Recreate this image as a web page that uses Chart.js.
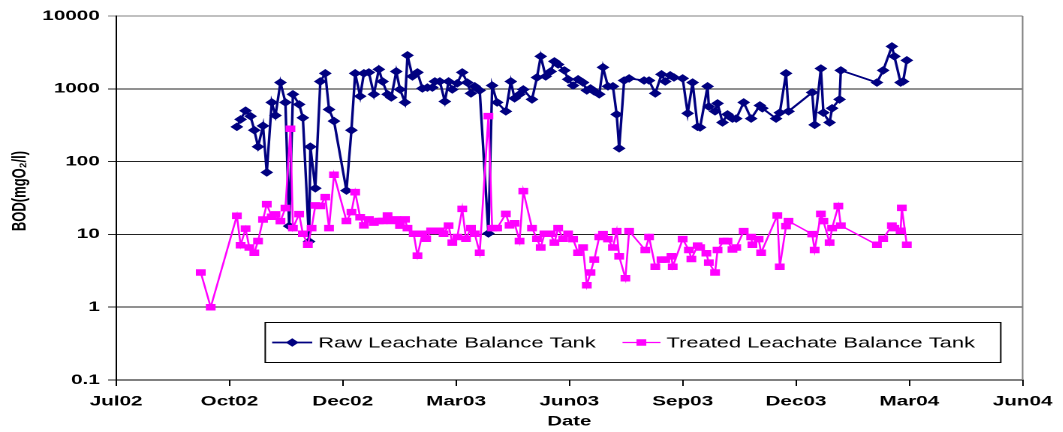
<!DOCTYPE html>
<html>
<head>
<meta charset="utf-8">
<script src="https://cdn.jsdelivr.net/npm/chart.js@4/dist/chart.umd.min.js"></script>
<style>
  html, body { margin: 0; padding: 0; background: #fff; overflow: hidden; }
  /* the chart is laid out narrow and stretched sideways, giving the wide lettering */
  #frame { position: absolute; left: 0; top: 0; width: 708.667px; height: 432px;
           transform: scaleX(1.5); transform-origin: 0 0; }
</style>
</head>
<body>
<div id="frame"><canvas id="bod"></canvas></div>
<script>
// Sampling day (days from 1 Jul 2002) and BOD in mgO2/l
const rawDay = [97,100,104,108,111,114,118,121,125,128,132,136,139,142,147,150,155,156,160,164,
  168,171,175,185,189,192,196,199,203,207,211,214,218,221,225,228,232,234,238,242,
  246,250,254,256,260,264,267,270,274,278,282,285,288,292,299,302,306,313,317,320,
  324,327,334,338,341,345,349,352,355,360,363,367,371,375,378,381,384,388,391,395,
  399,402,404,408,412,424,428,433,438,441,445,448,455,459,463,467,469,475,476,481,
  483,487,491,495,498,504,510,517,519,530,533,538,540,559,561,566,568,573,575,581,
  582,611,616,623,625,630,632,635];
const rawBOD = [300,380,500,420,270,160,310,71,650,430,1220,650,13,840,610,400,8,160,43,1260,
  1630,520,360,40,270,1630,790,1630,1680,840,1850,1260,840,760,1730,980,650,2880,1480,1680,
  1010,1040,1040,1260,1260,670,1260,980,1190,1680,1220,865,1080,950,10.3,1110,650,490,1260,740,
  840,980,715,1430,2790,1480,1730,2380,2160,1790,1350,1110,1350,1220,950,1010,920,840,1970,1080,
  1080,445,152,1300,1390,1300,1300,865,1580,1260,1530,1430,1390,460,1220,300,295,1080,570,490,
  630,345,445,390,390,650,390,590,540,390,470,1630,490,890,320,1900,470,345,540,715,
  1790,1220,1790,3820,2790,1220,1260,2460];

const treatedDay = [68,76,97,100,104,107,111,114,118,121,125,128,132,136,140,142,147,150,154,157,
  160,164,168,171,175,185,189,192,196,199,203,207,211,214,218,221,225,228,232,234,
  239,242,246,249,253,256,260,263,267,270,274,278,281,285,288,292,299,302,306,313,
  316,320,324,327,334,338,341,344,349,352,355,359,363,367,371,375,378,381,384,388,
  391,395,399,402,404,409,412,425,428,433,438,441,446,447,455,460,462,467,469,474,
  476,481,483,488,491,495,498,504,510,511,516,518,531,533,538,540,559,561,566,568,
  573,575,580,582,611,616,623,625,630,631,635];
const treatedBOD = [3,1,18,7.1,12,6.6,5.6,8.1,16,26,17.5,18.8,15.2,23,283,12.2,19,10.2,7.2,12.2,
  25,24.6,32.5,12.2,66,15.3,20.2,38,17.2,13.3,16.1,14.5,15.3,15.3,18.2,15.3,16.1,13.2,16.1,12.2,
  10.2,5.1,10.2,8.7,11.2,11.2,11.2,10.2,13.2,7.7,9.2,22.4,8.7,12.2,10.2,5.6,422,12.2,12.2,19.1,
  13.3,14.2,8.1,39.3,12.2,8.7,6.6,10.2,10.2,7.7,12.2,8.7,10.2,8.6,5.6,6.6,2.0,3.0,4.5,9.2,
  10.1,8.6,6.6,11.1,5.0,2.5,11.1,6.1,9.2,3.6,4.5,4.5,5.0,3.6,8.6,6.1,4.6,7.0,6.6,5.5,
  4.1,3.0,6.1,8.1,8.1,6.2,6.6,11.1,9.2,7.2,8.6,5.6,18.2,3.6,13,15.2,10.1,6.1,19.1,15.2,
  7.7,12.2,24.5,13.2,7.2,8.7,13.2,12.2,11.2,23.1,7.2];

// Axis ticks and titles
const xTickLabels = ['Jul02','Oct02','Dec02','Mar03','Jun03','Sep03','Dec03','Mar04','Jun04'];
const xTickStep = 91;
const yTickValues = [0.1, 1, 10, 100, 1000, 10000];
const yTitle = 'BOD(mgO\u2082/l)';
const xTitle = 'Date';

const seriesNames = ['Raw Leachate Balance Tank', 'Treated Leachate Balance Tank'];
const NAVY = '#000080';
const MAGENTA = '#FF00FF';
const FONT = "'Liberation Sans', Arial, sans-serif";

const toPoints = (xs, ys) => xs.map((x, i) => ({ x: x, y: ys[i] }));

// Boxed legend inside the plot, the grey right-hand frame edge and the y title
const legendBox = {
  id: 'legendBox',
  afterDraw(chart) {
    const ctx = chart.ctx;
    const a = chart.chartArea;
    ctx.save();
    ctx.strokeStyle = '#808080';
    ctx.lineWidth = 1;
    ctx.beginPath();
    ctx.moveTo(a.right, a.top);
    ctx.lineTo(a.right, a.bottom);
    ctx.stroke();

    // vertical axis title
    ctx.save();
    ctx.translate(13.6, 191);
    ctx.rotate(-Math.PI / 2);
    ctx.fillStyle = '#000';
    ctx.font = 'bold 13px ' + FONT;
    ctx.textAlign = 'center';
    ctx.textBaseline = 'middle';
    ctx.fillText(yTitle, 0, 0);
    ctx.restore();

    const bx = 176.7, by = 322.5, bw = 490, bh = 40;
    ctx.fillStyle = '#fff';
    ctx.fillRect(bx, by, bw, bh);
    ctx.strokeStyle = '#000';
    ctx.strokeRect(bx, by, bw, bh);

    const cy = by + bh / 2;
    const entries = [
      { x0: 181.3, x1: 208, mx: 194.7, tx: 212, color: NAVY, style: 'rectRot', r: 3.6, lw: 1.7, label: seriesNames[0] },
      { x0: 414.7, x1: 440, mx: 427.3, tx: 444, color: MAGENTA, style: 'rect', r: 3.9, lw: 1.3, label: seriesNames[1] }
    ];
    entries.forEach(e => {
      ctx.strokeStyle = e.color;
      ctx.lineWidth = e.lw;
      ctx.beginPath();
      ctx.moveTo(e.x0, cy);
      ctx.lineTo(e.x1, cy);
      ctx.stroke();
      ctx.fillStyle = e.color;
      ctx.lineWidth = 1;
      Chart.helpers.drawPoint(ctx, { pointStyle: e.style, radius: e.r, rotation: 0, borderWidth: 1 }, e.mx, cy);
      ctx.fillStyle = '#000';
      ctx.font = '14.6px ' + FONT;
      ctx.textBaseline = 'middle';
      ctx.textAlign = 'left';
      ctx.fillText(e.label, e.tx, cy + 1);
    });
    ctx.restore();
  }
};

new Chart(document.getElementById('bod'), {
  type: 'line',
  data: {
    datasets: [
      {
        label: seriesNames[0],
        data: toPoints(rawDay, rawBOD),
        borderColor: NAVY,
        backgroundColor: NAVY,
        borderWidth: 1.7,
        pointStyle: 'rectRot',
        pointRadius: 3.6,
        pointBorderWidth: 1,
        pointBackgroundColor: NAVY,
        pointBorderColor: NAVY,
        tension: 0,
        order: 1
      },
      {
        label: seriesNames[1],
        data: toPoints(treatedDay, treatedBOD),
        borderColor: MAGENTA,
        backgroundColor: MAGENTA,
        borderWidth: 1.3,
        pointStyle: 'rect',
        pointRadius: 3.9,
        pointBorderWidth: 1,
        pointBackgroundColor: MAGENTA,
        pointBorderColor: MAGENTA,
        tension: 0,
        order: 0
      }
    ]
  },
  options: {
    responsive: true,
    maintainAspectRatio: false,
    devicePixelRatio: 2,
    animation: false,
    events: [],
    layout: { padding: { left: 0, right: 22.67, top: 16, bottom: 0 } },
    plugins: { legend: { display: false }, tooltip: { enabled: false } },
    scales: {
      x: {
        type: 'linear',
        min: 0,
        max: xTickStep * (xTickLabels.length - 1),
        afterBuildTicks: s => { s.ticks = xTickLabels.map((_, i) => ({ value: i * xTickStep })); },
        afterFit: s => { s.height = 52; },
        ticks: {
          autoSkip: false, maxRotation: 0, minRotation: 0, padding: 7.5,
          color: '#000',
          font: { family: FONT, size: 13.8, weight: 'bold' },
          callback: (v, i) => xTickLabels[i]
        },
        grid: { drawOnChartArea: false, drawTicks: true, tickLength: 6, color: '#000', lineWidth: 1 },
        border: { display: true, color: '#000', width: 1 },
        title: {
          display: true, text: xTitle, color: '#000',
          font: { family: FONT, size: 13.5, weight: 'bold' },
          padding: { top: 0, bottom: 2 }
        }
      },
      y: {
        type: 'logarithmic',
        min: 0.1,
        max: 10000,
        afterBuildTicks: s => { s.ticks = yTickValues.map(v => ({ value: v })); },
        afterFit: s => { s.width = 77.33; },
        ticks: {
          padding: 5.5,
          color: '#000',
          font: { family: FONT, size: 13.8, weight: 'bold' },
          callback: v => String(v)
        },
        grid: {
          drawTicks: true, tickLength: 5.3, lineWidth: 1,
          color: c => (c.tick && c.tick.value === 10000) ? '#808080' : '#222'
        },
        border: { display: true, color: '#000', width: 1 },
        title: { display: false }
      }
    }
  },
  plugins: [legendBox]
});
</script>
</body>
</html>
